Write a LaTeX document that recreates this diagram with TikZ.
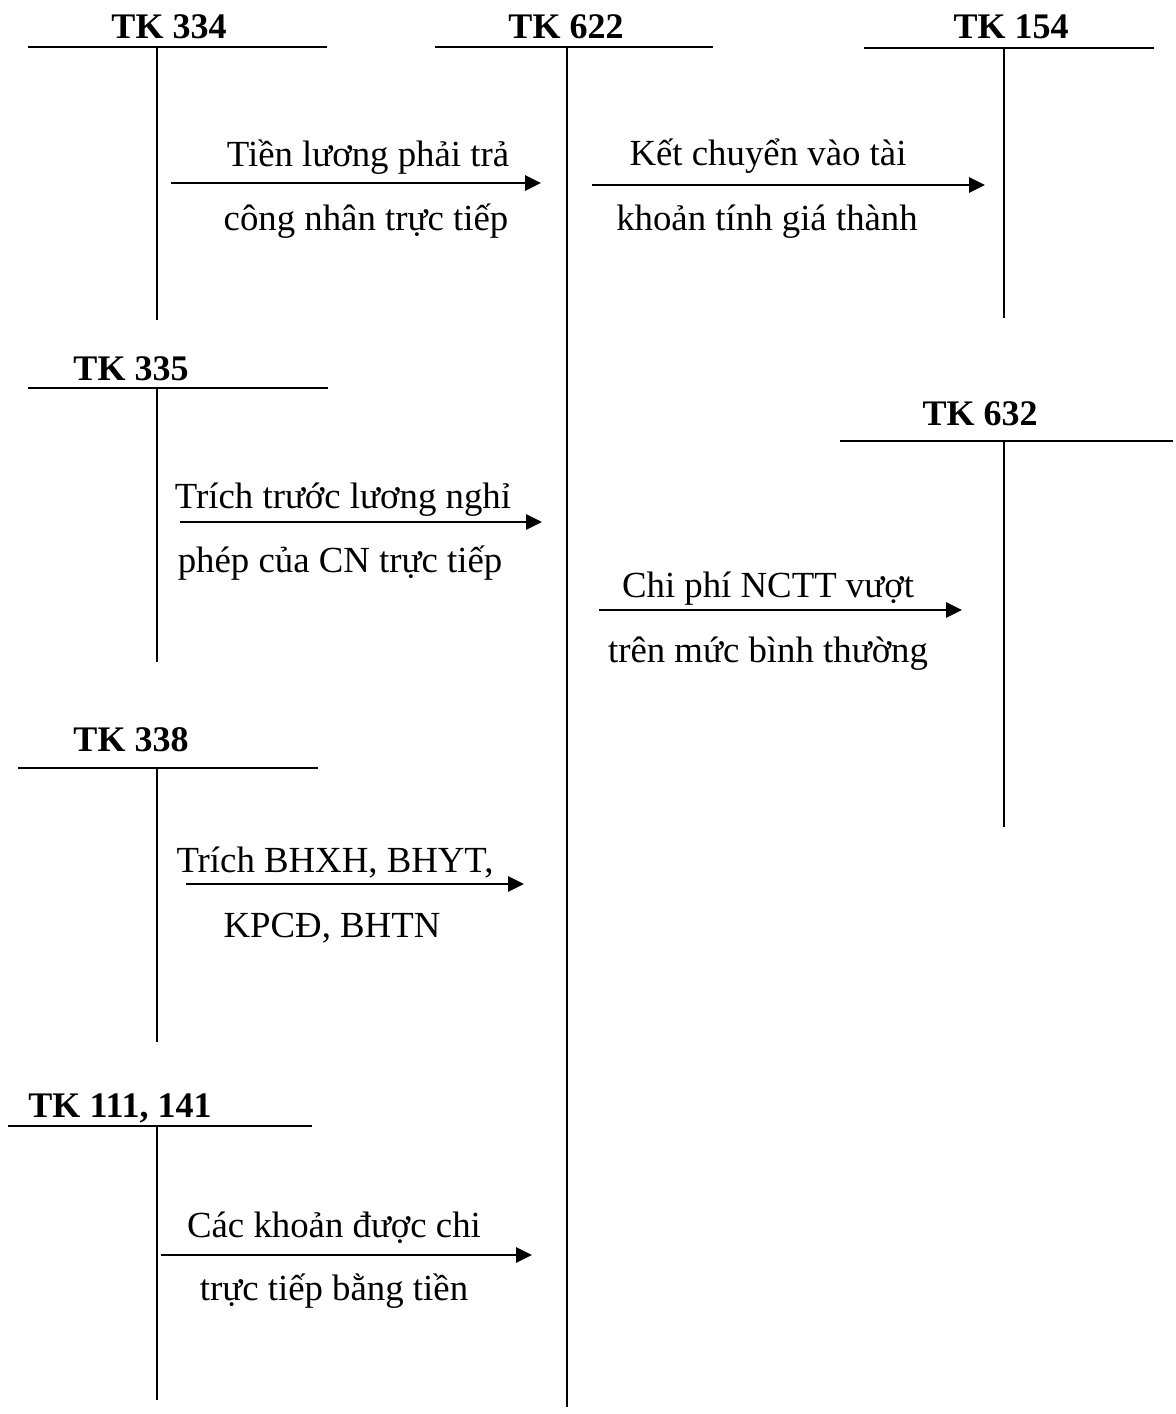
\documentclass[tikz,border=0pt]{standalone}
\usepackage{fontspec}
\setmainfont{Liberation Serif}
\usetikzlibrary{arrows.meta}

\tikzset{
  tkline/.style={line width=1pt},
  flow/.style={line width=1.4pt, -{Triangle[length=8pt, width=7.5pt]}},
  tktitle/.style={font=\fontsize{18}{22}\selectfont\bfseries, anchor=base, inner sep=0pt},
  lbl/.style={font=\fontsize{18.4}{22}\selectfont, anchor=base, inner sep=0pt}
}

\begin{document}
\begin{tikzpicture}[x=0.5pt, y=-0.5pt]
        \useasboundingbox (0,0) rectangle (1175,1414);

        % --- TK 334 ---
        \node[tktitle] (t334) at (169,38) {TK 334};
        \coordinate (l334) at (28,47);   \coordinate (r334) at (327,47);
        \coordinate (u334) at (157,47);  \coordinate (d334) at (157,320);
        \draw[tkline] (l334) -- (r334);
        \draw[tkline] (u334) -- (d334);

        % --- TK 622 ---
        \node[tktitle] (t622) at (566,38) {TK 622};
        \coordinate (l622) at (435,47);  \coordinate (r622) at (713,47);
        \coordinate (u622) at (567,47);  \coordinate (d622) at (567,1407);
        \draw[tkline] (l622) -- (r622);
        \draw[tkline] (u622) -- (d622);

        % --- TK 154 ---
        \node[tktitle] (t154) at (1011,38) {TK 154};
        \coordinate (l154) at (864,48);  \coordinate (r154) at (1154,48);
        \coordinate (u154) at (1004,48); \coordinate (d154) at (1004,318);
        \draw[tkline] (l154) -- (r154);
        \draw[tkline] (u154) -- (d154);

        % --- TK 335 ---
        \node[tktitle] (t335) at (131,380) {TK 335};
        \coordinate (l335) at (28,388);  \coordinate (r335) at (328,388);
        \coordinate (u335) at (157,388); \coordinate (d335) at (157,662);
        \draw[tkline] (l335) -- (r335);
        \draw[tkline] (u335) -- (d335);

        % --- TK 632 ---
        \node[tktitle] (t632) at (980,425) {TK 632};
        \coordinate (l632) at (840,441); \coordinate (r632) at (1173,441);
        \coordinate (u632) at (1004,441); \coordinate (d632) at (1004,827);
        \draw[tkline] (l632) -- (r632);
        \draw[tkline] (u632) -- (d632);

        % --- TK 338 ---
        \node[tktitle] (t338) at (131,751) {TK 338};
        \coordinate (l338) at (18,768);  \coordinate (r338) at (318,768);
        \coordinate (u338) at (157,768); \coordinate (d338) at (157,1042);
        \draw[tkline] (l338) -- (r338);
        \draw[tkline] (u338) -- (d338);

        % --- TK 111, 141 ---
        \node[tktitle] (t111) at (120,1117) {TK 111, 141};
        \coordinate (l111) at (8,1126);  \coordinate (r111) at (312,1126);
        \coordinate (u111) at (157,1126); \coordinate (d111) at (157,1400);
        \draw[tkline] (l111) -- (r111);
        \draw[tkline] (u111) -- (d111);

        % --- Các bút toán ---
        % 334 -> 622
        \coordinate (a1s) at (171,183); \coordinate (a1e) at (541,183);
        \draw[flow] (a1s) -- (a1e);
        \node[lbl] (a1top) at (368,166) {Tiền lương phải trả};
        \node[lbl] (a1bot) at (366,230) {công nhân trực tiếp};

        % 622 -> 154
        \coordinate (a2s) at (592,185); \coordinate (a2e) at (985,185);
        \draw[flow] (a2s) -- (a2e);
        \node[lbl] (a2top) at (768,165) {Kết chuyển vào tài};
        \node[lbl] (a2bot) at (767,230) {khoản tính giá thành};

        % 335 -> 622
        \coordinate (a3s) at (180,522); \coordinate (a3e) at (542,522);
        \draw[flow] (a3s) -- (a3e);
        \node[lbl] (a3top) at (343,508) {Trích trước lương nghỉ};
        \node[lbl] (a3bot) at (340,572) {phép của CN trực tiếp};

        % 622 -> 632
        \coordinate (a4s) at (599,610); \coordinate (a4e) at (962,610);
        \draw[flow] (a4s) -- (a4e);
        \node[lbl] (a4top) at (768,597) {Chi phí NCTT vượt};
        \node[lbl] (a4bot) at (768,662) {trên mức bình thường};

        % 338 -> 622
        \coordinate (a5s) at (186,884); \coordinate (a5e) at (524,884);
        \draw[flow] (a5s) -- (a5e);
        \node[lbl] (a5top) at (335,872) {Trích BHXH, BHYT,};
        \node[lbl] (a5bot) at (332,937) {KPCĐ, BHTN};

        % 111, 141 -> 622
        \coordinate (a6s) at (161,1255); \coordinate (a6e) at (532,1255);
        \draw[flow] (a6s) -- (a6e);
        \node[lbl] (a6top) at (334,1237) {Các khoản được chi};
        \node[lbl] (a6bot) at (334,1300) {trực tiếp bằng tiền};
\end{tikzpicture}
\end{document}
